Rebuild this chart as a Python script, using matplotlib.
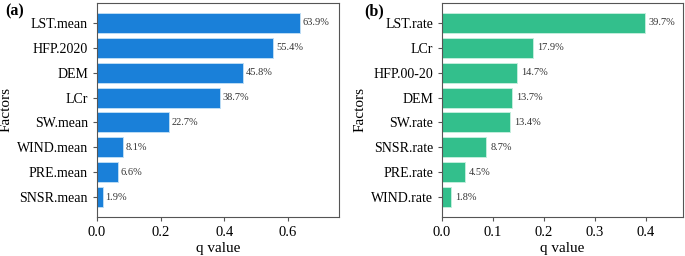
import matplotlib
matplotlib.use("Agg")
import matplotlib.pyplot as plt

plt.rcParams['font.family'] = ['Liberation Serif', 'DejaVu Serif']

# panel (a)
factors_a = ["LST.mean", "HFP.2020", "DEM", "LCr", "SW.mean", "WIND.mean", "PRE.mean", "SNSR.mean"]
q_a = [0.639, 0.554, 0.458, 0.387, 0.227, 0.081, 0.066, 0.019]
ticks_a = [0.0, 0.2, 0.4, 0.6]

# panel (b)
factors_b = ["LST.rate", "LCr", "HFP.00-20", "DEM", "SW.rate", "SNSR.rate", "PRE.rate", "WIND.rate"]
q_b = [0.397, 0.179, 0.147, 0.137, 0.134, 0.087, 0.045, 0.018]
ticks_b = [0.0, 0.1, 0.2, 0.3, 0.4]

fig = plt.figure(figsize=(6.85, 2.56), dpi=100)
ax1 = fig.add_axes([97/685, 39/256, 242/685, 214/256])
ax2 = fig.add_axes([442/685, 39/256, 241/685, 214/256])

def panel(ax, names, vals, ticks, color, edge, offset):
    y = list(range(len(names)))[::-1]
    ax.barh(y, vals, height=0.8, color=color, edgecolor=edge, linewidth=0.7)
    for yi, v in zip(y, vals):
        ax.text(v + offset, yi, f"{v*100:.1f}%", va='center', ha='left', fontsize=7.5, color='#333333')
    ax.set_yticks(y)
    ax.set_yticklabels(names, fontsize=10)
    ax.set_xticks(ticks)
    ax.set_xticklabels([f"{t:.1f}" for t in ticks], fontsize=10.5)
    ax.set_xlim(0, max(vals) * 1.19)
    ax.set_ylim(-0.8, len(names) - 0.2)
    ax.set_xlabel("q value", fontsize=11, labelpad=2)
    ax.set_ylabel("Factors", fontsize=11, labelpad=3)
    for s in ax.spines.values():
        s.set_color('#555555')
        s.set_linewidth(0.8)
    ax.tick_params(colors='#555555', labelcolor='black', length=3, width=0.8)

panel(ax1, factors_a, q_a, ticks_a, '#1a80d9', '#bcdcf5', 0.008)
panel(ax2, factors_b, q_b, ticks_b, '#33bf8c', '#c2eedc', 0.008)

fig.text(5/685, 1 - 11/256, '(a)', fontsize=11.5, fontweight='bold', va='center', ha='left')
fig.text(364/685, 1 - 11/256, '(b)', fontsize=11.5, fontweight='bold', va='center', ha='left')

fig.savefig("out.png", dpi=100)
